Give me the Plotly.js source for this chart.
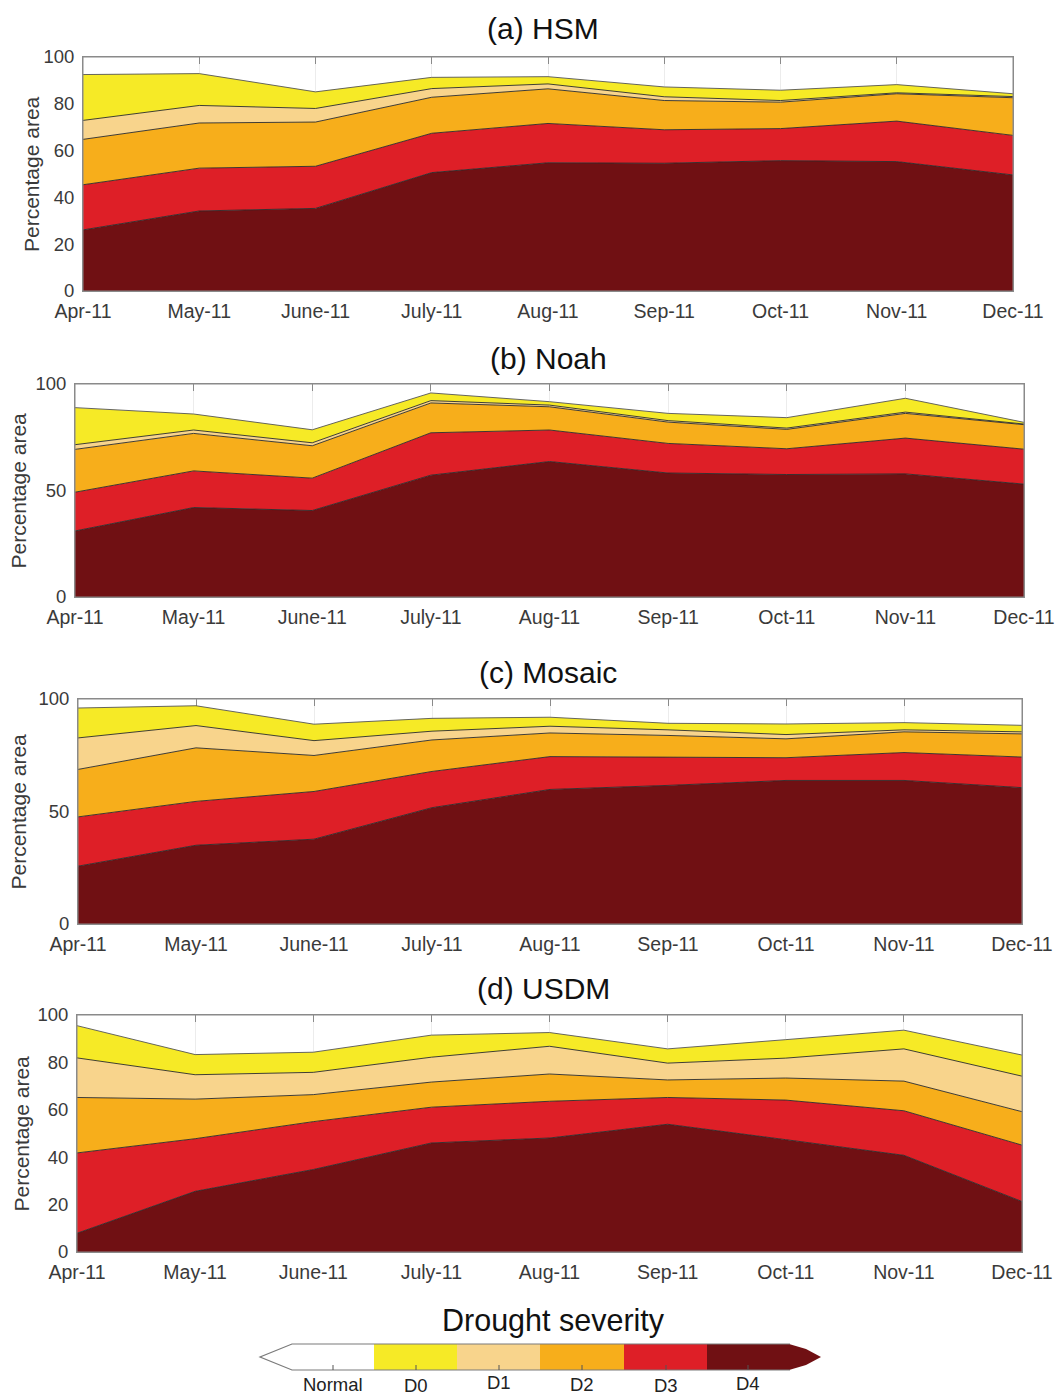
<!DOCTYPE html>
<html>
<head>
<meta charset="utf-8">
<script src="https://cdn.plot.ly/plotly-3.0.1.min.js"></script>
<style>
  html, body { margin: 0; padding: 0; background: #ffffff; }
  #chart { width: 1056px; height: 1397px; }
</style>
</head>
<body>
<div id="chart"></div>
<script>
// Months on the x axis
const months = ['Apr-11', 'May-11', 'June-11', 'July-11', 'Aug-11', 'Sep-11', 'Oct-11', 'Nov-11', 'Dec-11'];

// Percentage of area in each drought category or worse (cumulative: D0 = D0–D4, ..., D4 = D4 only)
const hsmD0 = [92.5, 92.9, 85.1, 91.3, 91.6, 87.2, 85.8, 88.2, 84.3];
const hsmD1 = [72.9, 79.3, 78.0, 86.5, 88.5, 83.0, 81.4, 84.7, 83.1];
const hsmD2 = [64.8, 71.8, 72.2, 82.8, 86.4, 81.4, 80.7, 84.3, 82.6];
const hsmD3 = [45.4, 52.5, 53.3, 67.4, 71.6, 68.9, 69.4, 72.6, 66.5];
const hsmD4 = [26.1, 34.2, 35.3, 50.6, 54.8, 54.6, 55.7, 55.3, 49.6];

const noahD0 = [88.9, 85.9, 78.5, 95.8, 91.7, 86.2, 84.2, 93.3, 82.0];
const noahD1 = [71.5, 78.4, 72.4, 92.2, 90.1, 82.8, 79.3, 86.8, 81.2];
const noahD2 = [69.3, 76.8, 71.0, 91.1, 89.3, 82.1, 78.7, 86.2, 80.9];
const noahD3 = [49.2, 59.2, 55.8, 77.1, 78.4, 72.1, 69.6, 74.6, 69.4];
const noahD4 = [31.0, 42.0, 40.6, 57.2, 63.6, 58.2, 57.5, 57.8, 53.0];

const mosaicD0 = [96.0, 97.0, 88.8, 91.4, 91.9, 89.2, 88.9, 89.5, 88.3];
const mosaicD1 = [82.7, 88.2, 81.5, 85.7, 87.9, 86.3, 84.2, 86.3, 85.4];
const mosaicD2 = [68.7, 78.3, 74.9, 81.8, 84.9, 83.8, 82.3, 85.4, 84.5];
const mosaicD3 = [47.6, 54.5, 58.9, 67.8, 74.4, 74.2, 73.9, 76.2, 74.2];
const mosaicD4 = [25.7, 35.0, 37.7, 51.7, 59.8, 61.6, 63.8, 63.8, 60.6];

const usdmD0 = [95.5, 83.3, 84.3, 91.5, 92.6, 85.7, 89.6, 93.6, 83.1];
const usdmD1 = [81.9, 74.8, 75.8, 82.2, 86.8, 79.7, 81.8, 85.7, 74.2];
const usdmD2 = [65.2, 64.5, 66.4, 71.7, 75.1, 72.6, 73.4, 72.1, 59.2];
const usdmD3 = [41.8, 47.8, 55.0, 61.1, 63.6, 65.2, 64.1, 59.6, 45.1];
const usdmD4 = [7.9, 25.6, 34.8, 46.0, 48.1, 53.9, 47.4, 40.8, 21.3];

// Severity classes and their colours
const classNames = ['Normal', 'D0', 'D1', 'D2', 'D3', 'D4'];
const classColors = ['#ffffff', '#F6EA26', '#F8D48C', '#F7AE1B', '#DE1F27', '#701013'];

const panelTitles = ['(a) HSM', '(b) Noah', '(c) Mosaic', '(d) USDM'];
const panelSeries = [
  [hsmD4, hsmD3, hsmD2, hsmD1, hsmD0],
  [noahD4, noahD3, noahD2, noahD1, noahD0],
  [mosaicD4, mosaicD3, mosaicD2, mosaicD1, mosaicD0],
  [usdmD4, usdmD3, usdmD2, usdmD1, usdmD0]
];
const panelYTicks = [
  [0, 20, 40, 60, 80, 100],
  [0, 50, 100],
  [0, 50, 100],
  [0, 20, 40, 60, 80, 100]
];

// Page geometry (pixels)
const W = 1056, H = 1397;
const px = x => x / W;
const py = y => 1 - y / H;

// plot boxes: [left, top, right, bottom]
const boxes = [
  [83, 57, 1013, 291],
  [75, 384, 1024, 597],
  [78, 699, 1022, 924],
  [77, 1015, 1022, 1252]
];
const titlePos = [[543, 28], [548, 358], [548, 672], [543, 988]];
const yTitleX = [31, 18, 18, 21];

const FONT = '"Liberation Sans", Arial, Helvetica, sans-serif';
const edgeColor = '#2a2a2a';

const traces = [];
const layout = {
  width: W,
  height: H,
  margin: { l: 0, r: 0, t: 0, b: 0 },
  paper_bgcolor: '#ffffff',
  plot_bgcolor: '#ffffff',
  showlegend: false,
  hovermode: false,
  font: { family: FONT, color: '#333333' },
  annotations: [],
  shapes: []
};

panelSeries.forEach((series, p) => {
  const sfx = p === 0 ? '' : String(p + 1);
  // stack drawn from D4 (bottom) up to D0 (top)
  series.forEach((vals, k) => {
    const cls = 5 - k; // index into classColors: D4 -> 5 ... D0 -> 1
    traces.push({
      type: 'scatter',
      mode: 'lines',
      x: months,
      y: vals,
      xaxis: 'x' + sfx,
      yaxis: 'y' + sfx,
      fill: k === 0 ? 'tozeroy' : 'tonexty',
      fillcolor: classColors[cls],
      line: { color: k === 4 ? '#555555' : edgeColor, width: 0.9 },
      name: classNames[cls],
      hoverinfo: 'skip'
    });
  });

  const b = boxes[p];
  layout['xaxis' + sfx] = {
    domain: [px(b[0]), px(b[2])],
    anchor: 'y' + sfx,
    type: 'category',
    categoryorder: 'array',
    categoryarray: months,
    range: [0, months.length - 1],
    fixedrange: true,
    showgrid: true,
    gridcolor: '#ececec',
    gridwidth: 1,
    ticks: 'inside',
    ticklen: 7,
    tickcolor: '#8a8a8a',
    showline: true,
    linecolor: '#8a8a8a',
    linewidth: 1,
    mirror: 'ticks',
    layer: 'below traces',
    zeroline: false,
    ticklabelstandoff: 3,
    tickfont: { family: FONT, size: 19.5, color: '#3a3a3a' }
  };
  layout['yaxis' + sfx] = {
    domain: [py(b[3]), py(b[1])],
    anchor: 'x' + sfx,
    range: [0, 100],
    fixedrange: true,
    tickvals: panelYTicks[p],
    ticktext: panelYTicks[p].map(String),
    showgrid: false,
    zeroline: false,
    ticks: '',
    showline: true,
    linecolor: '#8a8a8a',
    linewidth: 1,
    mirror: true,
    layer: 'below traces',
    ticklabelstandoff: 4,
    tickfont: { family: FONT, size: 18.5, color: '#3a3a3a' }
  };

  // frame over the filled areas
  layout.shapes.push({
    type: 'rect', xref: 'x' + sfx + ' domain', yref: 'y' + sfx + ' domain',
    x0: 0, x1: 1, y0: 0, y1: 1,
    line: { color: '#8a8a8a', width: 1 }, fillcolor: 'rgba(0,0,0,0)', layer: 'above'
  });

  // panel title
  layout.annotations.push({
    text: panelTitles[p], xref: 'paper', yref: 'paper',
    x: px(titlePos[p][0]), y: py(titlePos[p][1]),
    xanchor: 'center', yanchor: 'middle', showarrow: false,
    font: { family: FONT, size: 30, color: '#111111' }
  });
  // y-axis title
  layout.annotations.push({
    text: 'Percentage area', xref: 'paper', yref: 'paper',
    x: px(yTitleX[p]), y: py((b[1] + b[3]) / 2),
    xanchor: 'center', yanchor: 'middle', textangle: -90, showarrow: false,
    font: { family: FONT, size: 21, color: '#3a3a3a' }
  });
});

// Colour key for drought severity
const barTop = 1344, barBot = 1370, barMid = (barTop + barBot) / 2;
const segEdges = [291, 374, 457, 540, 624, 707, 790];
const pathOf = pts => pts.map((pt, i) => (i === 0 ? 'M ' : 'L ') + px(pt[0]).toFixed(5) + ',' + py(pt[1]).toFixed(5)).join(' ');

for (let i = 0; i < classColors.length; i++) {
  layout.shapes.push({
    type: 'rect', xref: 'paper', yref: 'paper',
    x0: px(segEdges[i]), x1: px(segEdges[i + 1]), y0: py(barBot), y1: py(barTop),
    fillcolor: classColors[i], line: { width: 0 }, layer: 'above'
  });
}
// left (open-ended) arrow in white
layout.shapes.push({
  type: 'path', xref: 'paper', yref: 'paper',
  path: pathOf([[292, barTop], [260, barMid], [292, barBot]]) + ' Z',
  fillcolor: '#ffffff', line: { width: 0 }, layer: 'above'
});
// right arrow in the D4 colour
layout.shapes.push({
  type: 'path', xref: 'paper', yref: 'paper',
  path: pathOf([[789, barTop], [806, barTop + 5], [821, barMid], [806, barBot - 5], [789, barBot]]) + ' Z',
  fillcolor: classColors[5], line: { width: 0 }, layer: 'above'
});
// outline of the bar
layout.shapes.push({
  type: 'path', xref: 'paper', yref: 'paper',
  path: pathOf([[790, barTop], [292, barTop], [260, barMid], [292, barBot], [790, barBot]]),
  line: { color: '#7a7a7a', width: 1.2 }, layer: 'above'
});
// tick marks under each class
const keyTickX = [333, 416, 499, 582, 666, 748];
keyTickX.forEach(x => {
  layout.shapes.push({
    type: 'line', xref: 'paper', yref: 'paper',
    x0: px(x), x1: px(x), y0: py(barBot), y1: py(barBot - 5),
    line: { color: '#555555', width: 1 }, layer: 'above'
  });
});
// class labels (slightly staggered)
const keyLabelY = [1384, 1385.5, 1382, 1384, 1385.5, 1383];
classNames.forEach((name, i) => {
  layout.annotations.push({
    text: name, xref: 'paper', yref: 'paper',
    x: px(keyTickX[i]), y: py(keyLabelY[i]),
    xanchor: 'center', yanchor: 'middle', showarrow: false,
    font: { family: FONT, size: 18.5, color: '#222222' }
  });
});
layout.annotations.push({
  text: 'Drought severity', xref: 'paper', yref: 'paper',
  x: px(553), y: py(1320), xanchor: 'center', yanchor: 'middle', showarrow: false,
  font: { family: FONT, size: 30.5, color: '#111111' }
});

Plotly.newPlot('chart', traces, layout, { staticPlot: true, displayModeBar: false });
</script>
</body>
</html>
